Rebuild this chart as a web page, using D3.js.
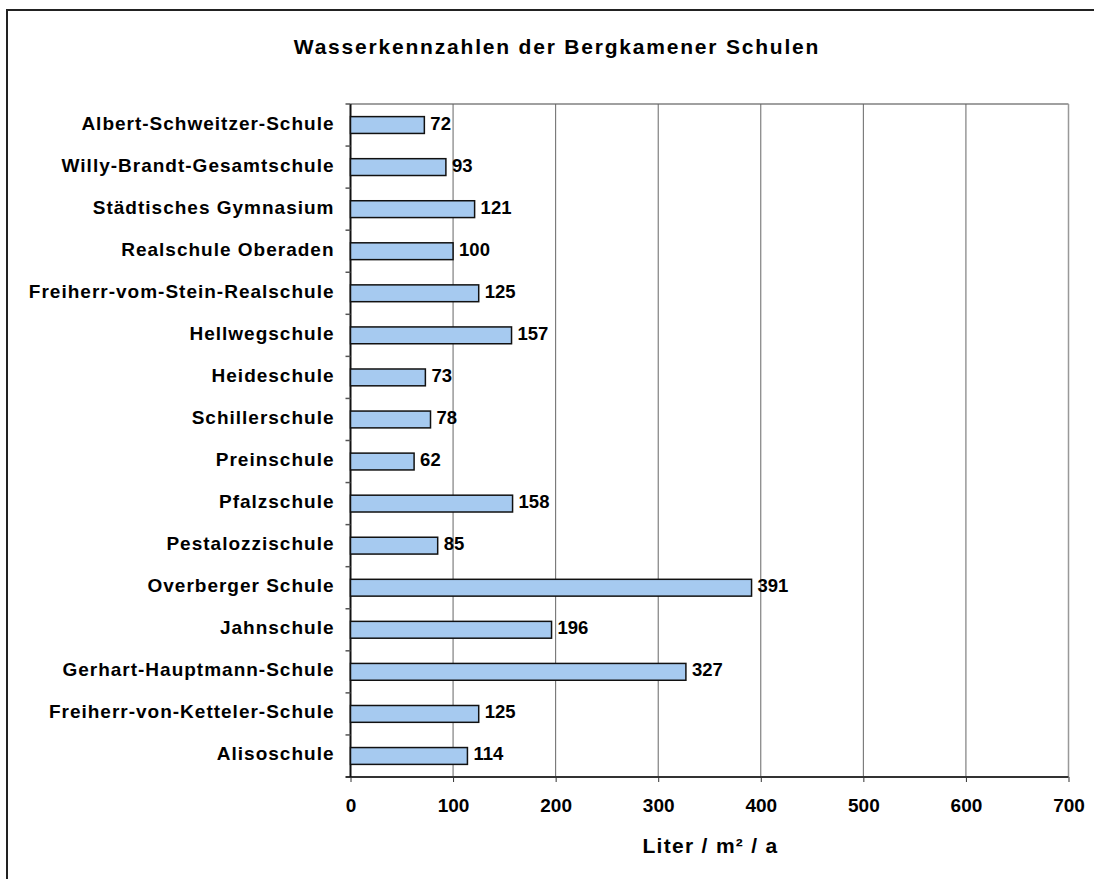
<!DOCTYPE html>
<html>
<head>
<meta charset="utf-8">
<script src="https://cdn.jsdelivr.net/npm/d3@7"></script>
<style>
  body { margin: 0; background: #fff; }
  svg { display: block; }
  text { font-family: "Liberation Sans", Arial, sans-serif; font-weight: bold; fill: #000; }
</style>
</head>
<body>
<svg id="chart" width="1094" height="879"></svg>
<script>
const title = "Wasserkennzahlen der Bergkamener Schulen";
const xAxisTitle = "Liter / m² / a";
const categories = [
  "Albert-Schweitzer-Schule",
  "Willy-Brandt-Gesamtschule",
  "Städtisches Gymnasium",
  "Realschule Oberaden",
  "Freiherr-vom-Stein-Realschule",
  "Hellwegschule",
  "Heideschule",
  "Schillerschule",
  "Preinschule",
  "Pfalzschule",
  "Pestalozzischule",
  "Overberger Schule",
  "Jahnschule",
  "Gerhart-Hauptmann-Schule",
  "Freiherr-von-Ketteler-Schule",
  "Alisoschule"
];
const values = [72, 93, 121, 100, 125, 157, 73, 78, 62, 158, 85, 391, 196, 327, 125, 114];
const xTicks = [0, 100, 200, 300, 400, 500, 600, 700];

const svg = d3.select("#chart");
const W = 1094, H = 879;
const plot = { left: 350.5, right: 1068.5, top: 104, bottom: 777 };

// outer frame
svg.append("rect")
  .attr("x", 7).attr("y", 10)
  .attr("width", W + 10).attr("height", H + 10)
  .attr("fill", "#fff").attr("stroke", "#222").attr("stroke-width", 2);

const x = d3.scaleLinear().domain([0, 700]).range([plot.left, plot.right]);
const y = d3.scaleBand().domain(categories).range([plot.top, plot.bottom]).paddingInner(0.6).paddingOuter(0.3);
const yb = d3.scaleBand().domain(categories).range([plot.top, plot.bottom]);

// plot area top border
svg.append("line")
  .attr("x1", plot.left).attr("x2", plot.right)
  .attr("y1", plot.top).attr("y2", plot.top)
  .attr("stroke", "#808080").attr("stroke-width", 1.5);

// gridlines
svg.append("g").selectAll("line").data(xTicks.slice(1)).join("line")
  .attr("x1", d => x(d)).attr("x2", d => x(d))
  .attr("y1", plot.top).attr("y2", plot.bottom)
  .attr("stroke", d => d === 700 ? "#999" : "#666").attr("stroke-width", d => d === 700 ? 1.5 : 1);

// x axis
const xAxis = d3.axisBottom(x).tickValues(xTicks).tickSize(5).tickPadding(14);
const gx = svg.append("g").attr("transform", `translate(0,${plot.bottom})`).call(xAxis);
gx.select(".domain").attr("stroke", "#333").attr("stroke-width", 2)
  .attr("d", `M${plot.left - 5},0H${plot.right}`);
gx.selectAll(".tick line").attr("stroke", "#333").attr("stroke-width", 1);
gx.selectAll(".tick text")
  .attr("y", 28.5).attr("dy", null)
  .attr("dominant-baseline", "central")
  .style("font-size", "19px").style("font-family", "Liberation Sans, Arial, sans-serif")
  .style("font-weight", "bold").attr("fill", "#000");

// y axis (category separators as ticks)
svg.append("line")
  .attr("x1", plot.left).attr("x2", plot.left)
  .attr("y1", plot.top).attr("y2", plot.bottom)
  .attr("stroke", "#111").attr("stroke-width", 2);
const boundaries = categories.map(c => yb(c));
svg.append("g").selectAll("line").data(boundaries).join("line")
  .attr("x1", plot.left - 5).attr("x2", plot.left)
  .attr("y1", d => d).attr("y2", d => d)
  .attr("stroke", "#555").attr("stroke-width", 1.5);

// category labels
svg.append("g").selectAll("text").data(categories).join("text")
  .attr("x", plot.left - 16)
  .attr("y", d => yb(d) + yb.bandwidth() / 2 - 2)
  .attr("text-anchor", "end")
  .attr("dominant-baseline", "central")
  .style("font-size", "19px")
  .style("letter-spacing", "1px")
  .text(d => d);

// bars
svg.append("g").selectAll("rect").data(values).join("rect")
  .attr("x", x(0))
  .attr("y", (d, i) => y(categories[i]))
  .attr("width", d => x(d) - x(0))
  .attr("height", y.bandwidth())
  .attr("fill", "#A6CAF0")
  .attr("stroke", "#111").attr("stroke-width", 1.5);

// value labels
svg.append("g").selectAll("text").data(values).join("text")
  .attr("x", d => x(d) + 6)
  .attr("y", (d, i) => yb(categories[i]) + yb.bandwidth() / 2 - 2)
  .attr("dominant-baseline", "central")
  .style("font-size", "18.5px")
  .text(d => d);

// title
svg.append("text")
  .attr("x", 557).attr("y", 46)
  .attr("text-anchor", "middle").attr("dominant-baseline", "central")
  .style("font-size", "21px")
  .style("letter-spacing", "1.8px")
  .text(title);

// axis title
svg.append("text")
  .attr("x", (plot.left + plot.right) / 2 + 1).attr("y", 845)
  .attr("text-anchor", "middle").attr("dominant-baseline", "central")
  .style("font-size", "21px")
  .style("letter-spacing", "1.3px")
  .text(xAxisTitle);
</script>
</body>
</html>
